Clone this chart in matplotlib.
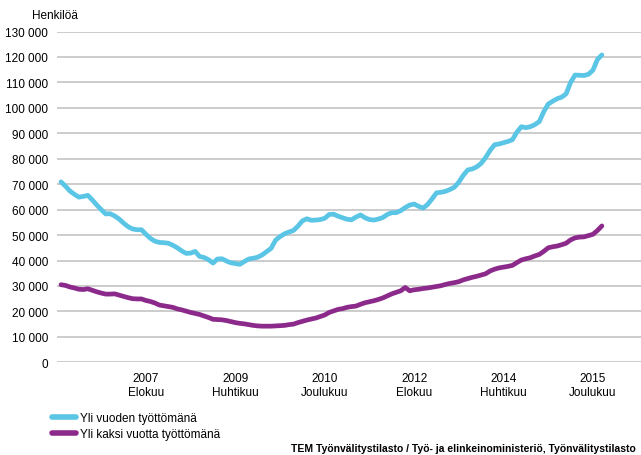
import pandas as pd
import matplotlib.pyplot as plt
from matplotlib.ticker import FuncFormatter

plt.rcParams['font.family'] = ['Liberation Sans', 'DejaVu Sans']

# Kuukausittaiset arvot, tammikuu 2006 - helmikuu 2016
months = pd.date_range('2006-01-01', periods=122, freq='MS')

yli_vuoden = [
    70900, 69200, 67300, 66000, 64900, 65200, 65600, 63800, 61800, 60000,
    58300, 58400, 57500, 56300, 54700, 53300, 52400, 52100, 52100, 50300,
    48700, 47600, 47100, 47000, 46800, 46000, 45000, 43800, 42800, 42900,
    43600, 41600, 41200, 40300, 39000, 40600, 40700, 39800, 39100, 38800,
    38500, 39600, 40600, 40900, 41300, 42200, 43500, 44800, 48000, 49400,
    50500, 51200, 51800, 53500, 55600, 56400, 55800, 55900, 56100, 56600,
    58100, 58200, 57400, 56800, 56200, 56000, 57100, 57900, 56800, 56100,
    55900, 56300, 56900, 58100, 58800, 58800, 59600, 60800, 61800, 62200,
    61300, 60600, 62000, 64200, 66600, 66800, 67200, 67900, 68800, 70800,
    73500, 75600, 76000, 76800, 78200, 80500, 83300, 85500, 85800, 86300,
    86800, 87500, 90500, 92600, 92200, 92600, 93400, 94600, 98500, 101500,
    102600, 103600, 104200, 105500, 110000, 112900, 112800, 112700, 113200, 114800,
    119000, 120800,
]

yli_kaksi = [
    30500, 30200, 29600, 29200, 28700, 28600, 28900, 28300, 27700, 27200,
    26800, 26800, 26900, 26400, 25900, 25400, 25000, 24900, 24900, 24300,
    23900, 23300, 22500, 22200, 21900, 21600, 21000, 20600, 20100, 19600,
    19200, 18800, 18200, 17600, 16900, 16800, 16700, 16400, 16000, 15600,
    15300, 15100, 14800, 14500, 14300, 14200, 14200, 14200, 14300, 14400,
    14500, 14800, 15000, 15600, 16100, 16600, 17000, 17400, 18000, 18600,
    19600, 20200, 20800, 21100, 21600, 21900, 22100, 22800, 23400, 23800,
    24200, 24700, 25300, 26100, 26900, 27500, 28100, 29400, 28100, 28500,
    28700, 29000, 29200, 29500, 29800, 30100, 30600, 31000, 31300, 31700,
    32400, 32900, 33400, 33800, 34300, 34800, 35900, 36600, 37100, 37400,
    37700, 38100, 39200, 40200, 40700, 41100, 41800, 42400, 43600, 45000,
    45400, 45700, 46200, 46800, 48100, 48900, 49200, 49300, 49800, 50300,
    51800, 53600,
]

tick_months = ['2007-08', '2009-04', '2010-12', '2012-08', '2014-04', '2015-12']
tick_labels = ['2007\nElokuu', '2009\nHuhtikuu', '2010\nJoulukuu',
               '2012\nElokuu', '2014\nHuhtikuu', '2015\nJoulukuu']

x = list(range(len(months)))
month_pos = {m.strftime('%Y-%m'): i for i, m in enumerate(months)}
tick_pos = [month_pos[m] for m in tick_months]

fig = plt.figure(figsize=(6.41, 4.56), dpi=100)
ax = fig.add_axes([57 / 641, 92.7 / 456, 1 - 57 / 641, 330.8 / 456])

ax.plot(x, yli_vuoden, color='#5BC5E6', lw=3.4, solid_capstyle='round',
        label='Yli vuoden työttömänä', zorder=3)
ax.plot(x, yli_kaksi, color='#8C2A8C', lw=3.4, solid_capstyle='round',
        label='Yli kaksi vuotta työttömänä', zorder=3)

ax.set_ylim(0, 130000)
ax.set_xlim(-0.9, 129.75)
ax.set_yticks(range(0, 130001, 10000))
ax.yaxis.set_major_formatter(FuncFormatter(lambda v, p: f'{int(v):,}'.replace(',', ' ')))
ax.set_xticks(tick_pos)
ax.set_xticklabels(tick_labels)

ax.grid(axis='y', color='#BFBFBF', lw=1.1)
ax.set_axisbelow(True)
for s in ax.spines.values():
    s.set_visible(False)
ax.tick_params(axis='both', length=0, labelsize=8.5, colors='black')
ax.tick_params(axis='y', pad=6.5)
ax.tick_params(axis='x', pad=7)
for lbl in ax.get_xticklabels():
    lbl.set_linespacing(1.25)

fig.text(32 / 641, 1 - 16 / 456, 'Henkilöä', ha='left', va='center', fontsize=8.5)

leg = fig.legend(loc='upper left', bbox_to_anchor=(52 / 641, 1 - 413 / 456),
                 frameon=False, fontsize=8.5, handlelength=2.0, handletextpad=0.4,
                 labelspacing=0.35, borderaxespad=0, borderpad=0)
for h in leg.get_lines():
    h.set_solid_capstyle('round')
    h.set_linewidth(4)

fig.text(636 / 641, 1 - 449 / 456,
         'TEM Työnvälitystilasto / Työ- ja elinkeinoministeriö, Työnvälitystilasto',
         ha='right', va='center', fontsize=7.5, fontweight='bold')

plt.savefig('out.png', dpi=100)
plt.close()
